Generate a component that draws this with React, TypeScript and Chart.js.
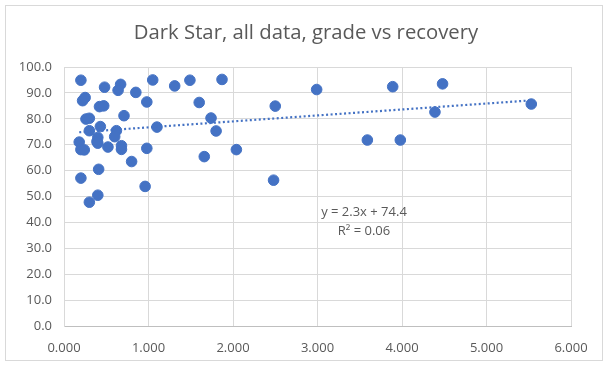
import React, { useEffect, useRef } from "react";
import { Chart, registerables } from "chart.js";

Chart.register(...registerables);

const chartTitle = "Dark Star, all data, grade vs recovery";

// grade (x) values
const gradeX = [
  0.2, 0.48, 0.67, 0.64, 0.85, 1.05, 0.98, 0.22, 0.25, 0.42,
  0.47, 0.71, 0.26, 0.3, 0.43, 0.3, 0.62, 1.1, 0.18, 0.4,
  0.39, 0.4, 0.6, 0.2, 0.24, 0.52, 0.68, 0.68, 0.98, 0.8,
  0.41, 0.2, 0.96, 0.4, 0.3, 1.31, 1.49, 1.87, 1.6, 1.74,
  1.8, 1.66, 2.04, 2.5, 2.48, 2.99, 3.59, 3.89, 4.48, 4.39,
  3.98, 5.53,
];

// recovery (y) values
const recoveryY = [
  94.9, 92.2, 93.3, 91.0, 90.2, 95.0, 86.5, 87.0, 88.2, 84.7,
  85.0, 81.2, 79.9, 80.2, 77.0, 75.4, 75.4, 76.8, 71.0, 72.8,
  71.2, 70.6, 73.1, 68.1, 68.0, 69.1, 69.6, 68.2, 68.6, 63.5,
  60.5, 57.1, 53.9, 50.5, 47.8, 92.7, 94.9, 95.2, 86.3, 80.3,
  75.3, 65.4, 68.1, 84.9, 56.3, 91.3, 71.8, 92.4, 93.5, 82.6,
  71.8, 85.7,
];

// linear trendline shown in the chart
const trendSlope = 2.3;
const trendIntercept = 74.4;
const trendLabel = ["y = 2.3x + 74.4", "R\u00B2 = 0.06"];
const trendLabelPos = { x: 3.55, y: 44 };

const xTicks = { min: 0, max: 6, step: 1 };
const yTicks = { min: 0, max: 100, step: 10 };

const FONT = "'Open Sans', 'DejaVu Sans', sans-serif";
const TEXT = "#595959";
const BLUE = "#4472C4";

export default function App() {
  const ref = useRef<HTMLCanvasElement | null>(null);

  useEffect(() => {
    if (!ref.current) return;
    const xMin = Math.min(...gradeX);
    const xMax = Math.max(...gradeX);
    const points = gradeX.map((x, i) => ({ x, y: recoveryY[i] }));
    const trend = [
      { x: xMin, y: trendSlope * xMin + trendIntercept },
      { x: xMax, y: trendSlope * xMax + trendIntercept },
    ];

    const textPlugin = {
      id: "texts",
      afterDraw(chart: any) {
        const ctx = chart.ctx;
        ctx.save();
        ctx.fillStyle = TEXT;
        ctx.textAlign = "center";
        ctx.textBaseline = "middle";
        ctx.font = `20.3px ${FONT}`;
        ctx.fillText(chartTitle, chart.width / 2 + 1, 33);
        ctx.font = `13px ${FONT}`;
        const px = chart.scales.x.getPixelForValue(trendLabelPos.x);
        const py = chart.scales.y.getPixelForValue(trendLabelPos.y);
        ctx.fillText(trendLabel[0], px, py);
        ctx.fillText(trendLabel[1], px, py + 19);
        ctx.restore();
      },
    };

    const chart = new Chart(ref.current, {
      type: "scatter",
      data: {
        datasets: [
          {
            label: "data",
            data: points,
            backgroundColor: BLUE,
            borderColor: BLUE,
            pointRadius: 5.3,
            pointHoverRadius: 5.3,
            order: 2,
          },
          {
            label: "trend",
            type: "line",
            data: trend,
            borderColor: BLUE,
            borderWidth: 2.2,
            borderDash: [2, 2.5],
            pointRadius: 0,
            fill: false,
            order: 1,
          } as any,
        ],
      },
      options: {
        animation: false,
        responsive: false,
        maintainAspectRatio: false,
        layout: { padding: { left: 0, right: 39, top: 67, bottom: 0 } },
        plugins: {
          legend: { display: false },
          title: { display: false },
          tooltip: { enabled: false },
        },
        scales: {
          x: {
            type: "linear",
            min: xTicks.min,
            max: xTicks.max,
            ticks: {
              stepSize: xTicks.step,
              color: TEXT,
              font: { family: FONT, size: 13 },
              padding: 14,
              maxRotation: 0,
              callback: (v: any) => Number(v).toFixed(3),
            },
            grid: { color: "#d9d9d9", drawTicks: false, lineWidth: 1 },
            border: { color: "#bfbfbf" },
            afterFit: (s: any) => {
              s.height = 43;
            },
          },
          y: {
            type: "linear",
            min: yTicks.min,
            max: yTicks.max,
            ticks: {
              stepSize: yTicks.step,
              color: TEXT,
              font: { family: FONT, size: 13 },
              padding: 12,
              callback: (v: any) => Number(v).toFixed(1),
            },
            grid: { color: "#d9d9d9", drawTicks: false, lineWidth: 1 },
            border: { color: "#d9d9d9" },
            afterFit: (s: any) => {
              s.width = 64;
            },
          },
        },
      },
      plugins: [textPlugin],
    });
    return () => chart.destroy();
  }, []);

  return (
    <div style={{ position: "fixed", left: 0, top: 0, width: 610, height: 369, background: "#fff" }}>
      <div
        style={{
          position: "absolute",
          left: 5,
          top: 5,
          width: 598,
          height: 356,
          border: "1px solid #d9d9d9",
          boxSizing: "border-box",
        }}
      />
      <canvas ref={ref} width={610} height={369} style={{ position: "absolute", left: 0, top: 0 }} />
    </div>
  );
}
